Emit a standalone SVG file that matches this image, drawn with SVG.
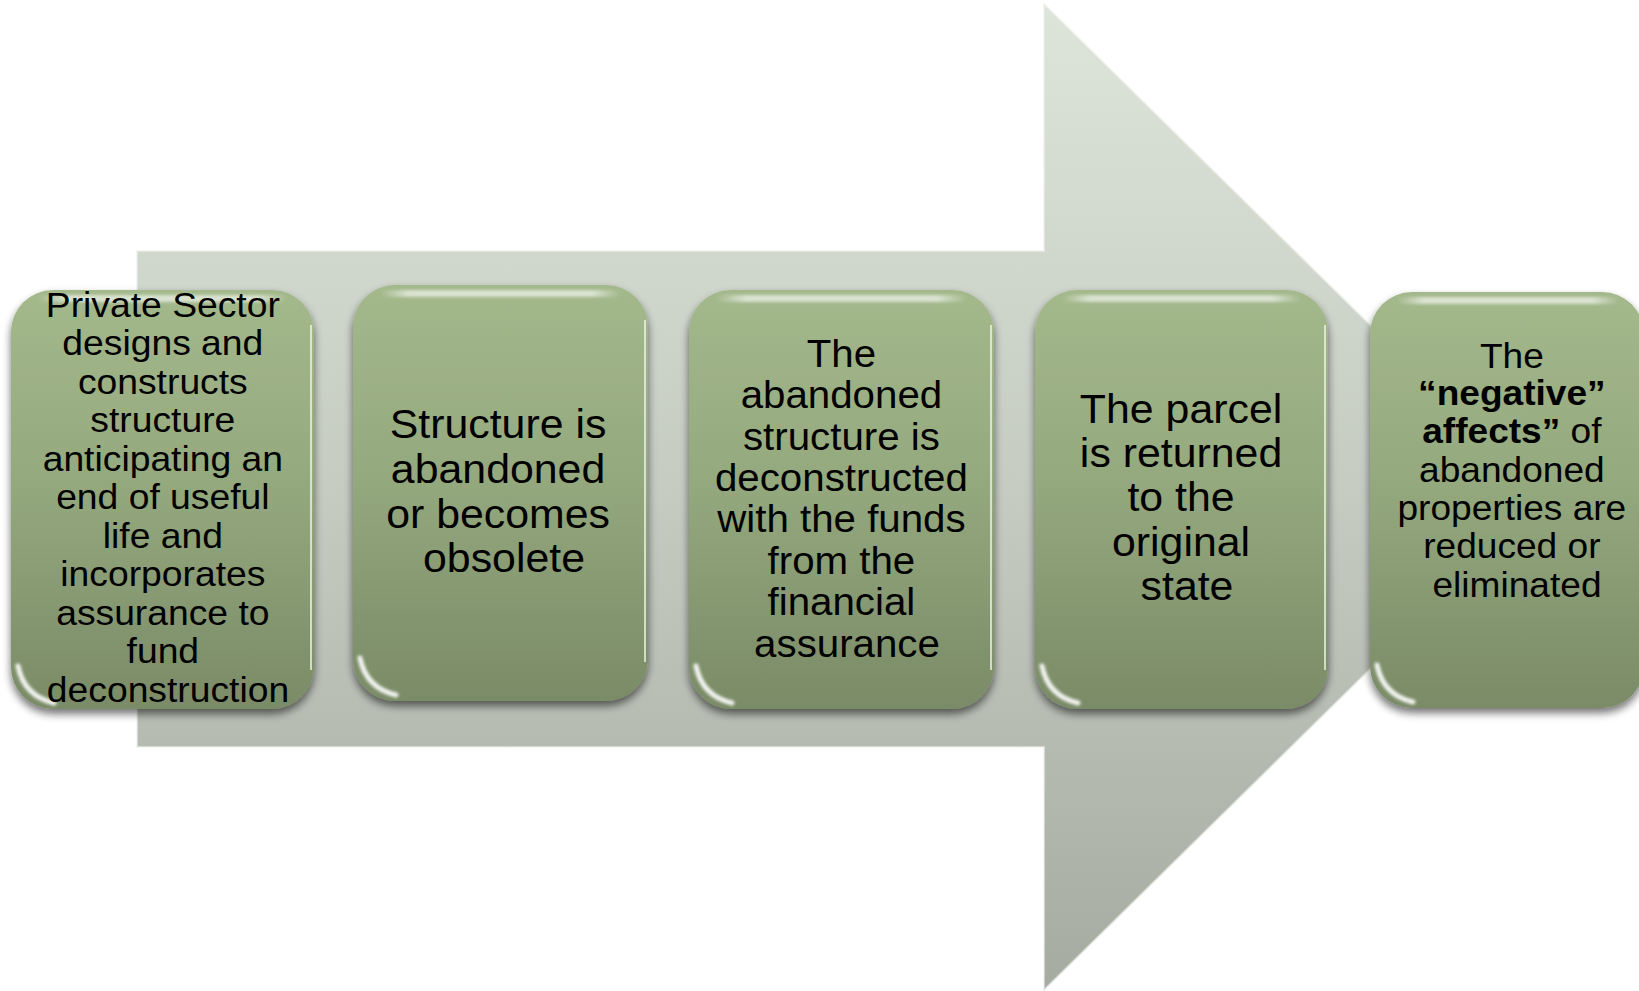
<svg xmlns="http://www.w3.org/2000/svg" width="1639" height="991" viewBox="0 0 1639 991">
  <defs>
    <linearGradient id="arrowGrad" gradientUnits="userSpaceOnUse" x1="0" y1="4" x2="0" y2="990">
      <stop offset="0" stop-color="#dde4da"/>
      <stop offset="0.5" stop-color="#c5cbc1"/>
      <stop offset="1" stop-color="#a6aba2"/>
    </linearGradient>
    <linearGradient id="boxGrad" x1="0" y1="0" x2="0" y2="1">
      <stop offset="0" stop-color="#a3b88b"/>
      <stop offset="0.45" stop-color="#95a97e"/>
      <stop offset="1" stop-color="#7a8b67"/>
    </linearGradient>
    <linearGradient id="topGloss" x1="0" y1="0" x2="1" y2="0">
      <stop offset="0" stop-color="#ffffff" stop-opacity="0"/>
      <stop offset="0.12" stop-color="#ffffff" stop-opacity="0.6"/>
      <stop offset="0.88" stop-color="#ffffff" stop-opacity="0.6"/>
      <stop offset="1" stop-color="#ffffff" stop-opacity="0"/>
    </linearGradient>
    <filter id="shadow" x="-10%" y="-10%" width="120%" height="125%">
      <feGaussianBlur in="SourceAlpha" stdDeviation="4"/>
      <feOffset dx="0" dy="5" result="b"/>
      <feComponentTransfer><feFuncA type="linear" slope="0.55"/></feComponentTransfer>
      <feMerge><feMergeNode/><feMergeNode in="SourceGraphic"/></feMerge>
    </filter>
    <filter id="soft" x="-20%" y="-100%" width="140%" height="300%">
      <feGaussianBlur stdDeviation="1.6"/>
    </filter>
  </defs>
  <style>
    .box { fill: url(#boxGrad); filter: url(#shadow); }
    .gloss { fill: url(#topGloss); filter: url(#soft); }
    .corner { fill: none; stroke: #ffffff; stroke-width: 5; stroke-linecap: round; stroke-opacity: 0.9; filter: url(#soft); }
    .edge { fill: none; stroke: #eef4e6; stroke-width: 2; stroke-opacity: 0.75; }
    .t { font-family: "Liberation Sans", Arial, sans-serif; fill: #000000; text-anchor: middle; }
    .b { font-weight: bold; }
  </style>

  <g id="background-arrow">
    <polygon points="137,251 1044,251 1044,4 1545,497 1044,990 1044,747 137,747" fill="url(#arrowGrad)" stroke="#ecf0ea" stroke-opacity="0.6" stroke-width="2"/>
  </g>

  <g id="connectors"></g>

  <g id="node1">
    <rect class="box" x="11" y="290" width="303" height="419" rx="42" ry="42"/>
    <rect class="gloss" x="38" y="295" width="249" height="7"/>
    <path class="corner" d="M 18 666 Q 24 696 54 703"/>
    <path class="edge" d="M 311 325 L 311 670"/>
    <text class="t" font-size="35" transform="translate(168,0) scale(1.065,1)">
      <tspan x="0" y="317">Private Sector</tspan>
      <tspan x="0" y="355.5">designs and</tspan>
      <tspan x="0" y="394">constructs</tspan>
      <tspan x="0" y="432.5">structure</tspan>
      <tspan x="0" y="471">anticipating an</tspan>
      <tspan x="0" y="509.5">end of useful</tspan>
      <tspan x="0" y="548">life and</tspan>
      <tspan x="0" y="586.5">incorporates</tspan>
      <tspan x="0" y="625">assurance to</tspan>
      <tspan x="0" y="663.5">fund</tspan>
      <tspan x="0" y="702">deconstruction</tspan>
    </text>
  </g>

  <g id="node2">
    <rect class="box" x="353" y="285" width="295" height="416" rx="42" ry="42"/>
    <rect class="gloss" x="380" y="290" width="241" height="7"/>
    <path class="corner" d="M 360 658 Q 366 688 396 695"/>
    <path class="edge" d="M 645 320 L 645 662"/>
    <text class="t" font-size="41" transform="translate(504,0) scale(1.045,1)">
      <tspan x="0" y="438">Structure is</tspan>
      <tspan x="0" y="483">abandoned</tspan>
      <tspan x="0" y="528">or becomes</tspan>
      <tspan x="0" y="572">obsolete</tspan>
    </text>
  </g>

  <g id="node3">
    <rect class="box" x="689" y="290" width="305" height="419" rx="42" ry="42"/>
    <rect class="gloss" x="716" y="295" width="251" height="7"/>
    <path class="corner" d="M 696 666 Q 702 696 732 703"/>
    <path class="edge" d="M 991 325 L 991 670"/>
    <text class="t" font-size="38" transform="translate(847,0) scale(1.06,1)">
      <tspan x="0" y="367">The</tspan>
      <tspan x="0" y="408.5">abandoned</tspan>
      <tspan x="0" y="450">structure is</tspan>
      <tspan x="0" y="491">deconstructed</tspan>
      <tspan x="0" y="532.5">with the funds</tspan>
      <tspan x="0" y="574">from the</tspan>
      <tspan x="0" y="615">financial</tspan>
      <tspan x="0" y="657">assurance</tspan>
    </text>
  </g>

  <g id="node4">
    <rect class="box" x="1035" y="290" width="293" height="419" rx="42" ry="42"/>
    <rect class="gloss" x="1062" y="295" width="239" height="7"/>
    <path class="corner" d="M 1042 666 Q 1048 696 1078 703"/>
    <path class="edge" d="M 1325 325 L 1325 670"/>
    <text class="t" font-size="41" transform="translate(1187,0) scale(1.045,1)">
      <tspan x="0" y="423">The parcel</tspan>
      <tspan x="0" y="467">is returned</tspan>
      <tspan x="0" y="511">to the</tspan>
      <tspan x="0" y="556">original</tspan>
      <tspan x="0" y="600">state</tspan>
    </text>
  </g>

  <g id="node5">
    <rect class="box" x="1370" y="292" width="274" height="416" rx="42" ry="42"/>
    <rect class="gloss" x="1397" y="297" width="222" height="7"/>
    <path class="corner" d="M 1377 665 Q 1383 695 1413 702"/>
    <text class="t" font-size="35" transform="translate(1517,0) scale(1.06,1)">
      <tspan x="0" y="368">The</tspan>
      <tspan x="0" y="405" class="b">“negative”</tspan>
      <tspan x="0" y="443"><tspan class="b">affects”</tspan> of</tspan>
      <tspan x="0" y="482">abandoned</tspan>
      <tspan x="0" y="520">properties are</tspan>
      <tspan x="0" y="558">reduced or</tspan>
      <tspan x="0" y="597">eliminated</tspan>
    </text>
  </g>
</svg>
